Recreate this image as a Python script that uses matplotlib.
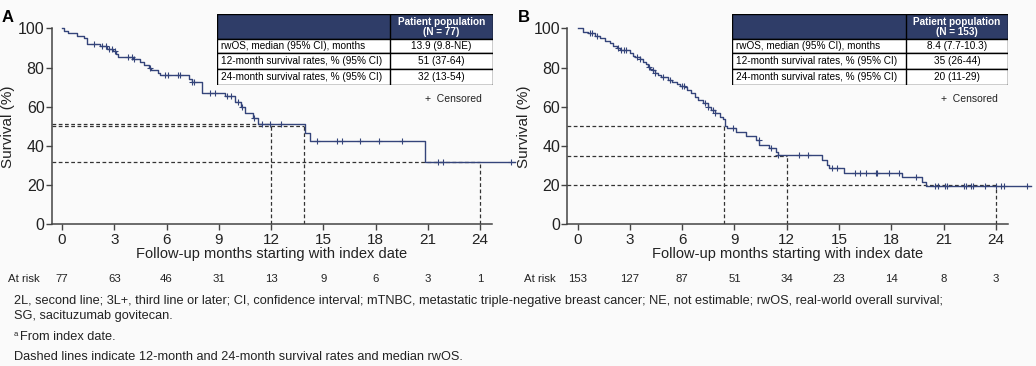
import numpy as np
import matplotlib
matplotlib.use("Agg")
import matplotlib.pyplot as plt
from matplotlib.patches import Rectangle
from matplotlib.transforms import blended_transform_factory

plt.rcParams['font.family'] = ['Liberation Sans', 'DejaVu Sans']

## panel A: Kaplan-Meier steps (time in months, survival %)
a_times = [0.11, 0.36, 0.84, 1.25, 1.45, 2.2, 2.6, 2.9, 3.1, 3.2, 4.1, 4.45, 4.7,
           5.0, 5.1, 5.5, 5.65, 7.3, 7.45, 8.03, 9.36, 9.93, 10.3, 10.5, 10.98,
           11.27, 13.95, 14.24, 20.84]
a_surv = [98.7, 97.4, 96.1, 94.8, 92.2, 90.9, 89.6, 88.2, 86.9, 85.3, 84.1, 82.7,
          81.3, 79.9, 78.5, 77.1, 76.0, 74.2, 72.6, 66.8, 65.3, 62.6, 60.0, 56.8,
          54.1, 51.2, 46.6, 42.3, 31.9]
a_cens = [1.85, 2.3, 2.5, 2.7, 2.85, 3.05, 3.8, 4.0, 4.15, 5.05, 5.9, 6.1, 6.65,
          6.75, 7.45, 7.6, 8.5, 8.78, 9.5, 9.7, 10.1, 10.35, 11.0, 11.46, 11.94,
          12.6, 14.62, 15.77, 16.05, 17.1, 18.2, 19.5, 21.6, 21.9, 25.8]
a_risk = [77, 63, 46, 31, 13, 9, 6, 3, 1]
a_median, a_12, a_24 = 13.9, 51, 32
a_rows = [("rwOS, median (95% CI), months", "13.9 (9.8-NE)"),
          ("12-month survival rates, % (95% CI)", "51 (37-64)"),
          ("24-month survival rates, % (95% CI)", "32 (13-54)")]
a_head = "Patient population\n(N = 77)"

## panel B
b_times = [0.32, 0.6, 1.0, 1.28, 1.57, 1.85, 2.05, 2.25, 2.45, 3.0, 3.15, 3.3, 3.55,
           3.77, 3.92, 4.05, 4.15, 4.24, 4.45, 4.62, 4.8, 5.2, 5.4, 5.7, 5.87, 6.15,
           6.25, 6.5, 6.73, 6.92, 7.2, 7.49, 7.68, 7.87, 8.16, 8.35, 8.45, 8.55,
           9.08, 9.66, 10.23, 10.42, 11.0, 11.38, 11.47, 14.05, 14.3, 14.43, 15.3,
           18.64, 19.79, 19.98]
b_surv = [98.3, 97.4, 96.0, 94.9, 93.7, 92.5, 90.8, 89.8, 88.8, 87.4, 86.1, 85.3,
          84.5, 83.0, 81.6, 80.4, 79.3, 78.5, 77.2, 76.0, 75.1, 73.7, 72.7, 71.6,
          70.8, 70.1, 68.7, 67.0, 65.1, 63.4, 61.8, 60.1, 58.3, 56.6, 55.0, 53.6,
          50.0, 49.0, 47.3, 45.0, 43.0, 40.5, 38.8, 37.0, 35.2, 32.8, 30.3, 28.6,
          26.0, 24.0, 21.8, 19.4]
b_cens = [0.7, 0.8, 1.1, 2.3, 2.5, 2.65, 2.8, 3.4, 3.6, 4.1, 4.3, 4.45, 4.9, 5.3,
          6.0, 6.1, 7.3, 7.5, 7.75, 7.9, 8.9, 10.4, 11.1, 11.5, 12.7, 13.2, 14.6,
          14.9, 15.9, 16.2, 16.55, 17.1, 17.2, 17.85, 18.45, 19.4, 20.5, 20.7, 21.1,
          21.2, 22.2, 22.3, 22.6, 22.7, 23.4, 24.0, 24.3, 24.5, 25.8]
b_risk = [153, 127, 87, 51, 34, 23, 14, 8, 3]
b_median, b_12, b_24 = 8.4, 35, 20
b_rows = [("rwOS, median (95% CI), months", "8.4 (7.7-10.3)"),
          ("12-month survival rates, % (95% CI)", "35 (26-44)"),
          ("24-month survival rates, % (95% CI)", "20 (11-29)")]
b_head = "Patient population\n(N = 153)"

xticks = [0, 3, 6, 9, 12, 15, 18, 21, 24]

foot_lines = [
    "2L, second line; 3L+, third line or later; CI, confidence interval; mTNBC, metastatic triple-negative breast cancer; NE, not estimable; rwOS, real-world overall survival;",
    "SG, sacituzumab govitecan.",
    "From index date.",
    "Dashed lines indicate 12-month and 24-month survival rates and median rwOS.",
]

W, H = 1036, 366
CURVE = '#34447a'
HEAD = '#2f3d68'
BG = '#fafafa'
TXT = '#222222'


def step_xy(times, surv):
    x, y = [0.0], [100.0]
    s = 100.0
    for t, v in zip(times, surv):
        x += [t, t]
        y += [s, v]
        s = v
    x.append(26.0)
    y.append(s)
    return np.array(x), np.array(y)


def surv_at(times, surv, t):
    s = 100.0
    for tt, v in zip(times, surv):
        if tt <= t:
            s = v
    return s


def draw_table(fig, px, rows, head):
    x0, y0, x1, y1 = px
    tax = fig.add_axes([x0 / W, 1 - y1 / H, (x1 - x0) / W, (y1 - y0) / H])
    tax.set_xlim(x0, x1)
    tax.set_ylim(y1, y0)
    tax.axis('off')
    div = x0 + 0.628 * (x1 - x0)
    edges = [y0, y0 + 24.7, y0 + 39.0, y0 + 55.0, y1]
    tax.add_patch(Rectangle((x0, edges[0]), x1 - x0, edges[1] - edges[0],
                            facecolor=HEAD, edgecolor='black', lw=1.0))
    tax.text((div + x1) / 2, (edges[0] + edges[1]) / 2, head, color='white',
             fontsize=7.2, fontweight='bold', ha='center', va='center',
             linespacing=1.0)
    for i, (lab, val) in enumerate(rows):
        ya, yb = edges[i + 1], edges[i + 2]
        tax.add_patch(Rectangle((x0, ya), x1 - x0, yb - ya, facecolor='white',
                                edgecolor='black', lw=1.0))
        tax.text(x0 + 4, (ya + yb) / 2, lab, fontsize=7.2, ha='left', va='center')
        tax.text((div + x1) / 2, (ya + yb) / 2, val, fontsize=7.2, ha='center',
                 va='center')
    tax.plot([div, div], [y0, y1], color='black', lw=1.0)


def draw_panel(fig, left_px, letter, times, surv, cens, risk, med, r12, r24,
               rows, head):
    px_per_month = 17.42
    x_lo, x_hi = -0.6, 24.7
    ax_left = left_px - (0 - x_lo) * px_per_month
    ax_w = (x_hi - x_lo) * px_per_month
    ax = fig.add_axes([ax_left / W, (H - 224.3) / H, ax_w / W, 196.0 / H])
    ax.set_facecolor('none')
    ax.set_xlim(x_lo, x_hi)
    ax.set_ylim(0, 100)

    ## KM curve and censor marks
    x, y = step_xy(times, surv)
    ax.plot(x, y, color=CURVE, lw=1.0, clip_on=False, zorder=3)
    cy = [surv_at(times, surv, c) for c in cens]
    ax.plot(cens, cy, ls='none', marker='+', ms=5, mew=0.8, color=CURVE,
            clip_on=False, zorder=4)

    ## dashed reference lines
    dk = dict(color='#333333', lw=0.9, ls=(0, (3, 2)), zorder=2)
    for t, s in [(12, r12), (med, 50), (24, r24)]:
        ax.plot([x_lo, t], [s, s], **dk)
        ax.plot([t, t], [0, s], **dk)

    for sp in ['top', 'right']:
        ax.spines[sp].set_visible(False)
    for sp in ['left', 'bottom']:
        ax.spines[sp].set_color('#444444')
        ax.spines[sp].set_linewidth(1.1)
    ax.set_xticks(xticks)
    ax.set_yticks([0, 20, 40, 60, 80, 100])
    ax.tick_params(axis='x', labelsize=11, length=4, width=1.0,
                   color='#444444', pad=2, labelcolor=TXT)
    ax.tick_params(axis='y', labelsize=11.5, length=4, width=1.0,
                   color='#444444', pad=1, labelcolor=TXT)
    ax.set_xlabel("Follow-up months starting with index date", fontsize=10.5,
                  labelpad=0, color=TXT)
    ax.set_ylabel("Survival (%)", fontsize=11, labelpad=2, color=TXT)

    ## at-risk row
    tr = blended_transform_factory(ax.transData, fig.transFigure)
    for t, n in zip(xticks, risk):
        fig.text(t, 1 - 278.5 / H, str(n), transform=tr, fontsize=8.2,
                 ha='center', va='center', color=TXT)
    fig.text((left_px - 54) / W, 1 - 278.5 / H, "At risk", fontsize=8.2,
             ha='left', va='center', color=TXT)

    ## panel letter
    fig.text((left_px - 60) / W, 1 - 18 / H, letter, fontsize=12,
             fontweight='bold', ha='left', va='center')

    ## censored legend
    fig.text((left_px + 363) / W, 1 - 98.7 / H, "+  Censored", fontsize=7.5,
             ha='left', va='center', color=TXT)

    draw_table(fig, (left_px + 154.7, 14.3, left_px + 430.7, 85.0), rows, head)
    return ax


fig = plt.figure(figsize=(W / 100, H / 100), dpi=100, facecolor=BG)
draw_panel(fig, 62.0, "A", a_times, a_surv, a_cens, a_risk, a_median, a_12, a_24,
           a_rows, a_head)
draw_panel(fig, 577.7, "B", b_times, b_surv, b_cens, b_risk, b_median, b_12, b_24,
           b_rows, b_head)

fs = 9.2
fig.text(14 / W, 1 - 300.7 / H, foot_lines[0], fontsize=fs, ha='left',
         va='center', color=TXT)
fig.text(14 / W, 1 - 316.5 / H, foot_lines[1], fontsize=fs, ha='left',
         va='center', color=TXT)
fig.text(14 / W, 1 - 334.5 / H, "a", fontsize=5.5, ha='left', va='center',
         color=TXT)
fig.text(19.5 / W, 1 - 336.7 / H, foot_lines[2], fontsize=fs, ha='left',
         va='center', color=TXT)
fig.text(14 / W, 1 - 356.7 / H, foot_lines[3], fontsize=fs, ha='left',
         va='center', color=TXT)

fig.savefig("out.png", dpi=100, facecolor=BG)
